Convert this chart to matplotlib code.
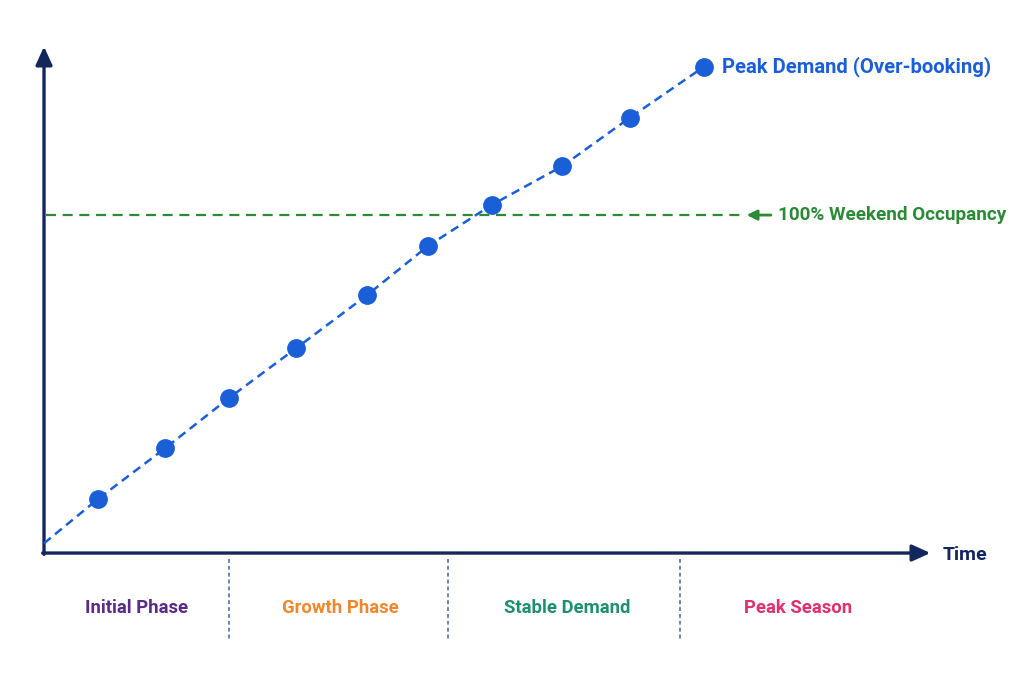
import matplotlib.pyplot as plt

# demand curve (time in arbitrary units, demand in % of weekend capacity)
times = [0.8, 1.8, 2.75, 3.75, 4.8, 5.7, 6.65, 7.7, 8.7, 9.8]
demand = [15.2, 30.4, 45.4, 60.3, 76.1, 90.7, 103.0, 114.6, 129.0, 144.2]
start_time = 0.0
start_demand = 2.0

occupancy = 100
phase_names = ["Initial Phase", "Growth Phase", "Stable Demand", "Peak Season"]
phase_centers = [1.38, 4.4, 7.77, 11.2]
phase_colors = ["#5a2a86", "#f0872e", "#1e8f72", "#e0306e"]
phase_dividers = [2.75, 6.0, 9.45]

NAVY = "#13275e"
BLUE = "#1a5fd8"
GREEN = "#2a8a36"


def main():
    plt.rcParams['font.family'] = ['Roboto', 'DejaVu Sans']
    fig = plt.figure(figsize=(10.24, 6.83), dpi=100)
    ax = fig.add_axes([0, 0, 1, 1])
    ax.set_xlim(-0.654, 14.56)
    ax.set_ylim(-39.7, 164.2)
    ax.axis('off')

    # axes with arrows
    ax.annotate("", xy=(13.17, -0.9), xytext=(-0.02, -0.9),
                arrowprops=dict(arrowstyle="-|>,head_length=1.1,head_width=0.5",
                                color=NAVY, lw=2.4, shrinkA=0, shrinkB=0))
    ax.annotate("", xy=(0, 150.3), xytext=(0, -1.3),
                arrowprops=dict(arrowstyle="-|>,head_length=1.1,head_width=0.5",
                                color=NAVY, lw=2.4, shrinkA=0, shrinkB=0))
    ax.text(13.35, -1.6, "Time", color=NAVY, fontsize=14, fontweight='bold',
            va='center', ha='left')

    # occupancy line
    ax.plot([0.03, 10.34], [occupancy, occupancy], color=GREEN, lw=1.6,
            dashes=(4.5, 3))
    ax.annotate("", xy=(10.44, occupancy), xytext=(10.8, occupancy),
                arrowprops=dict(arrowstyle="-|>,head_length=0.6,head_width=0.3",
                                color=GREEN, lw=2, shrinkA=0, shrinkB=0))
    ax.text(10.9, occupancy, "100% Weekend Occupancy", color=GREEN,
            fontsize=13.6, fontweight='bold', va='center', ha='left')

    # demand curve
    ax.plot([start_time] + times, [start_demand] + demand, color=BLUE, lw=1.8,
            dashes=(3.5, 2.2), zorder=3)
    ax.plot(times, demand, 'o', color=BLUE, markersize=12.5, zorder=4)
    ax.text(10.08, demand[-1], "Peak Demand (Over-booking)", color=BLUE,
            fontsize=14.6, fontweight='bold', va='center', ha='left')

    # phases
    for d in phase_dividers:
        ax.plot([d, d], [-2.6, -26.5], color="#4a5f95", lw=1.1, dashes=(2.5, 2))
    for name, c, col in zip(phase_names, phase_centers, phase_colors):
        ax.text(c, -17.3, name, color=col, fontsize=13.3, fontweight='bold',
                ha='center', va='center')

    plt.savefig("out.png", dpi=100, facecolor='white')


if __name__ == "__main__":
    main()
